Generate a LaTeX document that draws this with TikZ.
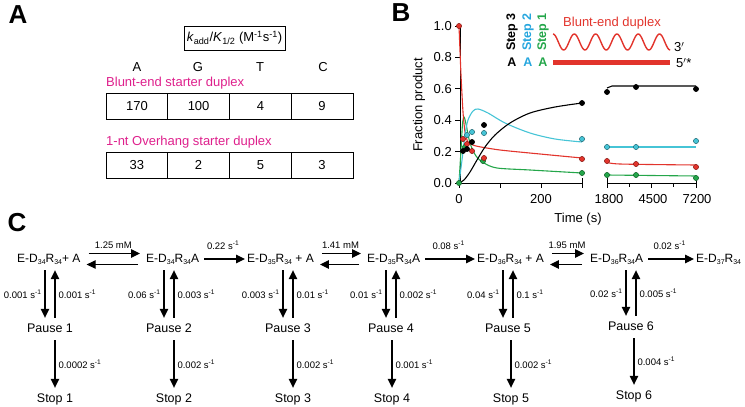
\documentclass[tikz,border=0pt]{standalone}
\usepackage{fontspec}
\setmainfont{Liberation Sans}
\usetikzlibrary{arrows.meta,positioning}

\definecolor{plotred}{RGB}{226,52,44}
\definecolor{plotcyan}{RGB}{70,196,214}
\definecolor{stepblue}{RGB}{38,166,222}
\definecolor{plotgreen}{RGB}{36,166,74}
\definecolor{duplexpink}{RGB}{222,32,140}

\newcommand{\lowsub}[1]{\raisebox{-0.45ex}{\fontsize{7}{8}\selectfont #1}}
\newcommand{\complexDR}[2]{E-D\lowsub{#1}R\lowsub{#2}}
\newcommand{\persec}{s\textsuperscript{-1}}

\begin{document}
\begin{tikzpicture}[x=1pt, y=-1pt,
  every node/.style={font=\fontsize{12.5}{14}\selectfont, inner sep=0pt},
  panel/.style={font=\fontsize{26}{28}\selectfont\bfseries},
  tabtext/.style={font=\fontsize{13}{15}\selectfont},
  cell/.style={draw, line width=0.9pt, minimum width=61.75pt, minimum height=26pt, tabtext},
  state/.style={anchor=west, text height=9pt, text depth=3pt, font=\fontsize{12}{14}\selectfont},
  pausebox/.style={text height=9pt, text depth=3pt},
  rate/.style={font=\fontsize{9.5}{11}\selectfont},
  steplab/.style={rotate=90, anchor=west, font=\fontsize{12.5}{14}\selectfont\bfseries},
  arr/.style={-{Triangle[length=9pt,width=8.5pt]}, line width=1.1pt},
  eq/.style={arr, shorten <=8pt, shorten >=6pt},
  fwd/.style={arr, shorten <=5pt, shorten >=2pt},
  vert/.style={arr, shorten <=5pt, shorten >=5pt},
  axis/.style={line width=1pt},
  curve/.style={line width=1.1pt},
  dot/.style={line width=0.5pt}
]
\useasboundingbox (0,0) rectangle (745,407);

% ---------- panel A ----------
\node[panel] (labA) at (18,15) {A};
\node[draw, line width=0.9pt, minimum width=101pt, minimum height=24pt, tabtext] (kbox) at (234.5,38)
  {\textit{k}\textsubscript{add}/\textit{K}\textsubscript{1/2} (M\textsuperscript{-1}s\textsuperscript{-1})};
\node[tabtext] (colA) at (137,67) {A};
\node[tabtext] (colG) at (198,67) {G};
\node[tabtext] (colT) at (260,67) {T};
\node[tabtext] (colC) at (323,67) {C};
\node[anchor=west, text=duplexpink, tabtext] (blunt) at (106,83) {Blunt-end starter duplex};
\node[cell] (b1) at (136.9,106) {170};
\node[cell] (b2) at (198.6,106) {100};
\node[cell] (b3) at (260.4,106) {4};
\node[cell] (b4) at (322.1,106) {9};
\node[anchor=west, text=duplexpink, tabtext] (over) at (106,142) {1-nt Overhang starter duplex};
\node[cell] (o1) at (136.9,165) {33};
\node[cell] (o2) at (198.6,165) {2};
\node[cell] (o3) at (260.4,165) {5};
\node[cell] (o4) at (322.1,165) {3};

% ---------- panel B ----------
\node[panel] (labB) at (401,13) {B};
\draw[axis] (460,26) -- (460,183);
\foreach \y/\lab [count=\i] in {183/0.0,151.6/0.2,120.2/0.4,88.8/0.6,57.4/0.8,26/1.0} {
  \draw[axis] (455,\y) -- (460,\y);
  \node[anchor=east, tabtext] (yt\i) at (452,\y) {\lab};
}
\node[rotate=90, tabtext] (ylab) at (419,105) {Fraction product};
% broken time axis
\draw[axis] (459,183) -- (582,183);
\foreach \x in {459,500,541} \draw[axis] (\x,183) -- (\x,188);
\draw[axis] (582,178) -- (582,188);
\draw[axis] (607,183) -- (696,183);
\draw[axis] (607,178) -- (607,188);
\draw[axis] (696,178) -- (696,188);
\draw[axis] (651,183) -- (651,188);
\foreach \x in {629,673} \draw[axis] (\x,183) -- (\x,186.5);
\foreach \x/\lab [count=\i] in {459/0,541/200,609/1800,653/4500,697/7200}
  \node[tabtext] (xt\i) at (\x,199) {\lab};
\node[tabtext] (xlab) at (578,219) {Time (s)};

% fitted curves
\draw[curve, plotgreen] plot[smooth, tension=0.5] coordinates {(459,183) (461,150) (462.5,124) (464,117) (466,124) (470,143) (476,156) (484,163) (497,168) (530,170) (582,173)};
\draw[curve, plotgreen] (607,175) -- (696,176);
\draw[curve, plotred] plot[smooth, tension=0.4] coordinates {(459,26) (461,75) (463,112) (465,132) (468,142) (476,146) (500,150) (540,154) (582,158)};
\draw[curve, plotred] plot[smooth, tension=0.5] coordinates {(607,162) (620,164) (696,165)};
\draw[curve, plotcyan] plot[smooth, tension=0.5] coordinates {(459,183) (462,160) (465,135) (468,120) (473,111) (478,109) (488,113) (505,123) (530,133) (555,139) (582,142)};
\draw[curve, plotcyan] (607,147) -- (696,147);
\draw[curve, black] plot[smooth, tension=0.5] coordinates {(459,183) (464,180) (470,172) (477,160) (485,147) (495,135) (510,123) (530,113) (555,107) (582,103)};
\draw[curve, black] (607,88) -- (612,86) -- (696,86);

% measured points
\foreach \px/\py in {459/183,465/147,483/161,582/173,607/175,636/175,696/178}
  \filldraw[dot, draw=plotgreen!60!black, fill=plotgreen] (\px,\py) circle (2.6pt);
\foreach \px/\py in {459/26,463/139,467/144,472/151,484/158,582/159,607/161,636/164,696/167}
  \filldraw[dot, draw=plotred!60!black, fill=plotred] (\px,\py) circle (2.6pt);
\foreach \px/\py in {467/135,472/132,484/133,582/139,607/147,636/147,696/141}
  \filldraw[dot, draw=plotcyan!55!black, fill=plotcyan] (\px,\py) circle (2.6pt);
\foreach \px/\py in {463/151,467/149,472/142,484/125,582/103,607/92,636/87,696/89}
  \filldraw[dot, fill=black] (\px,\py) circle (2.6pt);

% legend: substrate cartoon
\node[steplab] (st3) at (512,51) {Step 3};
\node[steplab, text=stepblue] (st2) at (528,51) {Step 2};
\node[steplab, text=plotgreen] (st1) at (543,51) {Step 1};
\node[font=\fontsize{12.5}{14}\selectfont\bfseries] (nt3) at (512,62) {A};
\node[font=\fontsize{12.5}{14}\selectfont\bfseries, text=stepblue] (nt2) at (528,62) {A};
\node[font=\fontsize{12.5}{14}\selectfont\bfseries, text=plotgreen] (nt1) at (543,62) {A};
\node[text=plotred, tabtext] (duplex) at (612,23) {Blunt-end duplex};
\draw[plotred, line width=1.4pt] plot[domain=0:5.5, samples=140, smooth] ({553+\x*21.3},{42-8*cos(\x*360)});
\draw[plotred, line width=5pt] (553,62) -- (670,62);
\node[anchor=west, tabtext] (end3) at (674,47) {3$'$};
\node[anchor=west, tabtext] (end5) at (676,63) {5$'$*};

% ---------- panel C ----------
\node[panel] (labC) at (17,223) {C};
\node[state] (s1) at (17,259) {\complexDR{34}{34}+ A};
\node[state] (s2) at (146,259) {\complexDR{34}{34}A};
\node[state] (s3) at (247,259) {\complexDR{35}{34} + A};
\node[state] (s4) at (367,259) {\complexDR{35}{34}A};
\node[state] (s5) at (477,259) {\complexDR{36}{34} + A};
\node[state] (s6) at (590,259) {\complexDR{36}{34}A};
\node[state] (s7) at (696,259) {\complexDR{37}{34}};

\draw[eq] ([yshift=5.5pt]s1.east) -- node[rate, above=4pt] (k12) {1.25 mM} ([yshift=5.5pt]s2.west);
\draw[eq] ([yshift=-5.5pt]s2.west) -- ([yshift=-5.5pt]s1.east);
\draw[fwd] (s2.east) -- node[rate, above=9pt] (k23) {0.22 \persec} (s3.west);
\draw[eq] ([yshift=5.5pt]s3.east) -- node[rate, above=4pt] (k34) {1.41 mM} ([yshift=5.5pt]s4.west);
\draw[eq] ([yshift=-5.5pt]s4.west) -- ([yshift=-5.5pt]s3.east);
\draw[fwd] (s4.east) -- node[rate, above=9pt] (k45) {0.08 \persec} (s5.west);
\draw[eq] ([yshift=5.5pt]s5.east) -- node[rate, above=4pt] (k56) {1.95 mM} ([yshift=5.5pt]s6.west);
\draw[eq] ([yshift=-5.5pt]s6.west) -- ([yshift=-5.5pt]s5.east);
\draw[fwd] (s6.east) -- node[rate, above=9pt] (k67) {0.02 \persec} (s7.west);

% pauses and stops
\node[pausebox] (p1) at (50,329) {Pause 1};
\node[pausebox] (p2) at (169,329) {Pause 2};
\node[pausebox] (p3) at (288,329) {Pause 3};
\node[pausebox] (p4) at (391,329) {Pause 4};
\node[pausebox] (p5) at (508,329) {Pause 5};
\node[pausebox] (p6) at (631,327) {Pause 6};
\node[pausebox] (t1) at (55,399) {Stop 1};
\node[pausebox] (t2) at (174,399) {Stop 2};
\node[pausebox] (t3) at (293,399) {Stop 3};
\node[pausebox] (t4) at (392,399) {Stop 4};
\node[pausebox] (t5) at (511,399) {Stop 5};
\node[pausebox] (t6) at (634,396) {Stop 6};

\draw[vert] ([xshift=-5pt]p1.north |- s1.south) -- node[rate, left=3pt] (d1) {0.001 \persec} ([xshift=-5pt]p1.north);
\draw[vert] ([xshift=5pt]p1.north) -- node[rate, right=3pt] (u1) {0.001 \persec} ([xshift=5pt]p1.north |- s1.south);
\draw[vert] ([xshift=-5pt]p2.north |- s2.south) -- node[rate, left=3pt] (d2) {0.06 \persec} ([xshift=-5pt]p2.north);
\draw[vert] ([xshift=5pt]p2.north) -- node[rate, right=3pt] (u2) {0.003 \persec} ([xshift=5pt]p2.north |- s2.south);
\draw[vert] ([xshift=-5pt]p3.north |- s3.south) -- node[rate, left=3pt] (d3) {0.003 \persec} ([xshift=-5pt]p3.north);
\draw[vert] ([xshift=5pt]p3.north) -- node[rate, right=3pt] (u3) {0.01 \persec} ([xshift=5pt]p3.north |- s3.south);
\draw[vert] ([xshift=-5pt]p4.north |- s4.south) -- node[rate, left=3pt] (d4) {0.01 \persec} ([xshift=-5pt]p4.north);
\draw[vert] ([xshift=5pt]p4.north) -- node[rate, right=3pt] (u4) {0.002 \persec} ([xshift=5pt]p4.north |- s4.south);
\draw[vert] ([xshift=-5pt]p5.north |- s5.south) -- node[rate, left=3pt] (d5) {0.04 \persec} ([xshift=-5pt]p5.north);
\draw[vert] ([xshift=5pt]p5.north) -- node[rate, right=3pt] (u5) {0.1 \persec} ([xshift=5pt]p5.north |- s5.south);
\draw[vert] ([xshift=-5pt]p6.north |- s6.south) -- node[rate, left=3pt] (d6) {0.02 \persec} ([xshift=-5pt]p6.north);
\draw[vert] ([xshift=5pt]p6.north) -- node[rate, right=3pt] (u6) {0.005 \persec} ([xshift=5pt]p6.north |- s6.south);

\draw[vert] (t1.north |- p1.south) -- node[rate, right=3pt] (z1) {0.0002 \persec} (t1.north);
\draw[vert] (t2.north |- p2.south) -- node[rate, right=3pt] (z2) {0.002 \persec} (t2.north);
\draw[vert] (t3.north |- p3.south) -- node[rate, right=3pt] (z3) {0.002 \persec} (t3.north);
\draw[vert] (t4.north |- p4.south) -- node[rate, right=3pt] (z4) {0.001 \persec} (t4.north);
\draw[vert] (t5.north |- p5.south) -- node[rate, right=3pt] (z5) {0.002 \persec} (t5.north);
\draw[vert] (t6.north |- p6.south) -- node[rate, right=3pt] (z6) {0.004 \persec} (t6.north);
\end{tikzpicture}
\end{document}
